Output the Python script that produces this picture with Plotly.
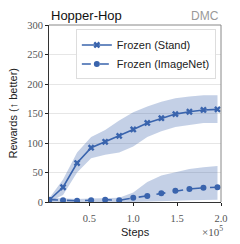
import plotly.graph_objects as go

steps = [4000, 20000, 36000, 52000, 68000, 84000, 100000, 116000, 132000, 148000, 164000, 180000, 196000]
stand_mean = [3, 25, 66, 92, 102, 112, 123, 134, 142, 149, 153, 156, 157]
stand_upper = [6, 38, 84, 110, 122, 138, 152, 162, 170, 176, 179, 181, 181]
stand_lower = [0, 12, 50, 74, 80, 84, 94, 110, 120, 127, 131, 134, 134]
imnet_mean = [4, 3, 2, 3, 4, 3, 7, 10, 15, 19, 22, 24, 25]
imnet_upper = [7, 6, 5, 6, 7, 7, 16, 34, 45, 51, 56, 59, 61]
imnet_lower = [0, 0, 0, 0, 0, 0, 0, 0, 1, 2, 3, 4, 4]

x_ticks = [50000, 100000, 150000, 200000]
x_tick_labels = ["0.5", "1.0", "1.5", "2.0"]
y_ticks = [0, 50, 100, 150, 200, 250, 300]

blue = "#3a64ad"
band = "rgba(58,100,173,0.3)"
sans = "Liberation Sans"
serif = "Liberation Serif"

fig = go.Figure()
for up, lo in [(stand_upper, stand_lower), (imnet_upper, imnet_lower)]:
    fig.add_trace(go.Scatter(x=steps + steps[::-1], y=up + lo[::-1], fill="toself",
                             fillcolor=band, line=dict(width=0), hoverinfo="skip",
                             showlegend=False, mode="lines"))
fig.add_trace(go.Scatter(x=steps, y=stand_mean, mode="lines+markers", name="Frozen (Stand)",
                         line=dict(color=blue, width=1.6),
                         marker=dict(symbol="x", size=6, color=blue, line=dict(width=0))))
fig.add_trace(go.Scatter(x=steps, y=imnet_mean, mode="lines+markers", name="Frozen (ImageNet)",
                         line=dict(color=blue, width=1.6, dash="dash"),
                         marker=dict(symbol="circle", size=6, color=blue)))

# page body has an 8px margin, so the figure is sized to the visible area
fig.update_layout(
    width=232, height=236,
    margin=dict(l=41, r=13, t=16, b=42),
    paper_bgcolor="white", plot_bgcolor="white",
    showlegend=True,
    legend=dict(x=0.97, y=0.975, xanchor="right", yanchor="top",
                bgcolor="rgba(255,255,255,0.9)", bordercolor="#dddddd", borderwidth=1,
                font=dict(family=sans, size=11, color="#222"),
                tracegroupgap=0, itemwidth=30),
    xaxis=dict(range=[4000, 200000], tickvals=x_ticks, ticktext=x_tick_labels,
               showgrid=False, zeroline=False, ticks="outside", ticklen=3,
               tickcolor="#222", showline=True, linecolor="#333", linewidth=1, mirror=False,
               ticklabelstandoff=3,
               tickfont=dict(family=serif, size=10.5, color="#555")),
    yaxis=dict(range=[0, 300], tickvals=y_ticks, showgrid=True, gridcolor="#e6e6e6",
               gridwidth=1, zeroline=False, ticks="outside", ticklen=3, tickcolor="#222",
               showline=True, linecolor="#333", linewidth=1,
               tickfont=dict(family=serif, size=10.5, color="#555")),
)
fig.add_shape(type="line", xref="paper", yref="paper", x0=0, x1=1, y0=1, y1=1,
              line=dict(color="#888", width=1))
fig.add_shape(type="line", xref="paper", yref="paper", x0=1, x1=1, y0=0, y1=1,
              line=dict(color="#888", width=1))

fig.add_annotation(text="Hopper-Hop", xref="paper", yref="paper", x=0, y=1, xanchor="left",
                   yanchor="bottom", yshift=0, showarrow=False,
                   font=dict(family=sans, size=13, color="#111"))
fig.add_annotation(text="DMC", xref="paper", yref="paper", x=1, y=1, xanchor="right",
                   yanchor="bottom", yshift=0, showarrow=False,
                   font=dict(family=sans, size=12, color="#999"))
fig.add_annotation(text="Rewards (↑ better)", xref="paper", yref="paper", x=0, y=0.5,
                   xanchor="center", yanchor="middle", xshift=-37, textangle=-90, showarrow=False,
                   font=dict(family=sans, size=11, color="#222"))
fig.add_annotation(text="Steps", xref="paper", yref="paper", x=0.5, y=0, xanchor="center",
                   yanchor="top", yshift=-22, showarrow=False,
                   font=dict(family=sans, size=11, color="#222"))
fig.add_annotation(text="×10<sup>5</sup>", xref="paper", yref="paper", x=1, y=0, xanchor="right",
                   yanchor="top", yshift=-20, xshift=4, showarrow=False,
                   font=dict(family=serif, size=11, color="#555"))

fig.write_html("out.html")
